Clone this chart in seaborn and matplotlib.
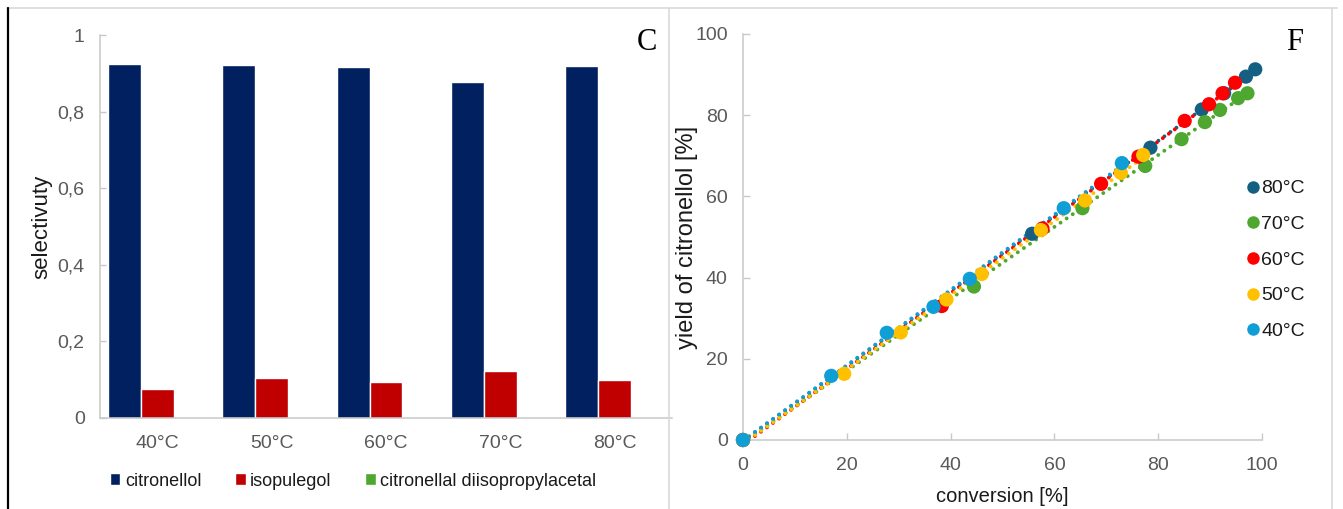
import numpy as np
import pandas as pd
import matplotlib
matplotlib.use("Agg")
import matplotlib.pyplot as plt
from matplotlib import font_manager
from matplotlib.lines import Line2D
import seaborn as sns

# ---------------- selectivity per reaction temperature ----------------
temperatures = ["40°C", "50°C", "60°C", "70°C", "80°C"]
products = ["citronellol", "isopulegol", "citronellal diisopropylacetal"]
sel_citronellol = [0.924, 0.922, 0.916, 0.877, 0.919]
sel_isopulegol = [0.076, 0.104, 0.094, 0.123, 0.099]
sel_acetal = [0.0, 0.0, 0.0, 0.0, 0.0]
sel_ticks = [0, 0.2, 0.4, 0.6, 0.8, 1.0]
sel_ticklabels = ["0", "0,2", "0,4", "0,6", "0,8", "1"]

# ---------------- yield of citronellol vs conversion ----------------
conv_80 = [0, 55.7, 78.5, 88.4, 92.7, 96.9, 98.7]
yield_80 = [0, 50.8, 72.0, 81.4, 85.4, 89.5, 91.3]
conv_70 = [0, 44.5, 65.4, 77.5, 84.5, 89.0, 91.9, 95.4, 97.2]
yield_70 = [0, 37.8, 57.1, 67.5, 74.1, 78.3, 81.3, 84.2, 85.4]
conv_60 = [0, 38.3, 57.7, 69.0, 76.2, 85.1, 89.8, 92.4, 94.8]
yield_60 = [0, 33.0, 52.1, 63.1, 69.8, 78.6, 82.7, 85.4, 88.0]
conv_50 = [0, 19.5, 30.4, 39.2, 46.0, 57.4, 65.9, 72.8, 77.1]
yield_50 = [0, 16.3, 26.5, 34.6, 40.9, 51.7, 59.0, 65.8, 70.2]
conv_40 = [0, 17.0, 27.7, 36.7, 43.7, 61.8, 73.0]
yield_40 = [0, 15.8, 26.4, 32.8, 39.7, 57.1, 68.2]
series_order = ["80°C", "70°C", "60°C", "50°C", "40°C"]
axis_ticks = [0, 20, 40, 60, 80, 100]

bar_colors = {"citronellol": "#002060", "isopulegol": "#C00000",
              "citronellal diisopropylacetal": "#4EA72E"}
point_colors = {"80°C": "#156082", "70°C": "#4EA72E", "60°C": "#FF0000",
                "50°C": "#FFC000", "40°C": "#0F9ED5"}

sns.set_theme(style="white")
installed = {f.name for f in font_manager.fontManager.ttflist}
narrow = "Liberation Sans Narrow" if "Liberation Sans Narrow" in installed else "Liberation Sans"
plt.rcParams["font.family"] = [narrow, "DejaVu Sans"]

TICK = "#595959"
SPINE = "#c8c8c8"
TEXT = "#1a1a1a"

fig = plt.figure(figsize=(13.43, 5.09), dpi=100)
W, H = 1343, 509


def fx(px):
    return px / W


def fy(py):
    return 1 - py / H


# ---------------- panel C ----------------
axC = fig.add_axes([fx(100), fy(418), fx(672) - fx(100), fy(35) - fy(418)])
sel = pd.DataFrame({
    "temperature": temperatures * 3,
    "product": np.repeat(products, len(temperatures)),
    "selectivity": sel_citronellol + sel_isopulegol + sel_acetal,
})
sns.barplot(data=sel, x="temperature", y="selectivity", hue="product",
            hue_order=products, palette=bar_colors, width=0.865,
            saturation=1, errorbar=None, ax=axC)
handles, labels = axC.get_legend_handles_labels()
if axC.get_legend() is not None:
    axC.get_legend().remove()
axC.set_xlim(-0.5, 4.5)
axC.set_ylim(0, 1)
axC.set_yticks(sel_ticks)
axC.set_yticklabels(sel_ticklabels)
axC.set_xlabel("")
axC.set_ylabel("selectivuty", fontsize=16, color=TEXT, family="Liberation Sans")
axC.yaxis.set_label_coords(-0.102, 0.5)
axC.yaxis.label.set_va("center")
for s in ["top", "right"]:
    axC.spines[s].set_visible(False)
for s in ["left", "bottom"]:
    axC.spines[s].set_color(SPINE)
    axC.spines[s].set_linewidth(1.1)
axC.tick_params(axis="y", direction="in", length=4, width=1, color=SPINE,
                labelcolor=TICK, labelsize=14, pad=11, left=True)
axC.tick_params(axis="x", length=0, labelcolor=TICK, labelsize=14, pad=12)
fig.legend(handles, labels, loc="center", bbox_to_anchor=(fx(353), fy(481)),
           ncol=3, frameon=False, fontsize=13, handlelength=0.6,
           handleheight=0.6, handletextpad=0.25, columnspacing=1.85,
           labelcolor=TEXT)
fig.text(fx(647), fy(42), "C", family="Liberation Serif", fontsize=22,
         ha="center", va="center", color="black")

# ---------------- panel F ----------------
axF = fig.add_axes([fx(743), fy(440), fx(1262) - fx(743), fy(34) - fy(440)])
conv = {"80°C": conv_80, "70°C": conv_70, "60°C": conv_60,
        "50°C": conv_50, "40°C": conv_40}
yld = {"80°C": yield_80, "70°C": yield_70, "60°C": yield_60,
       "50°C": yield_50, "40°C": yield_40}
frames = [pd.DataFrame({"conversion": conv[t], "yield": yld[t], "series": t})
          for t in series_order]
data = pd.concat(frames, ignore_index=True)

for t in series_order:
    sub = data[data["series"] == t]
    sns.regplot(data=sub, x="conversion", y="yield", scatter=False, ci=None,
                truncate=True, color=point_colors[t], ax=axF,
                line_kws=dict(linestyle=(0, (0.01, 1.9)), linewidth=2.8,
                              dash_capstyle="round"))
sns.scatterplot(data=data, x="conversion", y="yield", hue="series",
                hue_order=series_order, palette=point_colors, s=105,
                linewidth=0, legend=False, ax=axF, zorder=4, clip_on=False)

axF.set_xlim(0, 100)
axF.set_ylim(0, 100)
axF.set_xticks(axis_ticks)
axF.set_yticks(axis_ticks)
axF.set_xlabel("conversion [%]", fontsize=14.5, color=TEXT)
axF.set_ylabel("yield of citronellol [%]", fontsize=17, color=TEXT,
               family="Liberation Sans")
axF.xaxis.set_label_coords(0.5, -0.138)
axF.xaxis.label.set_va("center")
axF.yaxis.set_label_coords(-0.108, 0.5)
axF.yaxis.label.set_va("center")
for s in ["top", "right"]:
    axF.spines[s].set_visible(False)
for s in ["left", "bottom"]:
    axF.spines[s].set_color(SPINE)
    axF.spines[s].set_linewidth(1.1)
axF.tick_params(axis="both", direction="in", length=5, width=1, color=SPINE,
                labelcolor=TICK, labelsize=14, left=True, bottom=True)
axF.tick_params(axis="y", pad=11)
axF.tick_params(axis="x", pad=12)

leg_handles = [Line2D([], [], linestyle="none", marker="o", markersize=9,
                      markerfacecolor=point_colors[t], markeredgewidth=0)
               for t in series_order]
axF.legend(leg_handles, series_order, loc="center left",
           bbox_to_anchor=(fx(1236), fy(260)), bbox_transform=fig.transFigure,
           frameon=False, fontsize=14, handlelength=0.7, handletextpad=0.1,
           labelspacing=0.93, labelcolor=TEXT, borderpad=0)
fig.text(fx(1295), fy(42), "F", family="Liberation Serif", fontsize=22,
         ha="center", va="center", color="black")

# ---------------- panel frames ----------------
frame_kw = dict(transform=fig.transFigure, color="#d9d9d9", linewidth=1.2)
fig.add_artist(Line2D([fx(7), fx(1337)], [fy(8), fy(8)], **frame_kw))
fig.add_artist(Line2D([fx(669), fx(669)], [fy(8), 0], **frame_kw))
fig.add_artist(Line2D([fx(1332), fx(1332)], [fy(8), 0], **frame_kw))
fig.add_artist(Line2D([fx(8), fx(8)], [fy(8), 0], transform=fig.transFigure,
                      color="black", linewidth=1.6))

fig.savefig("out.png", dpi=100)
